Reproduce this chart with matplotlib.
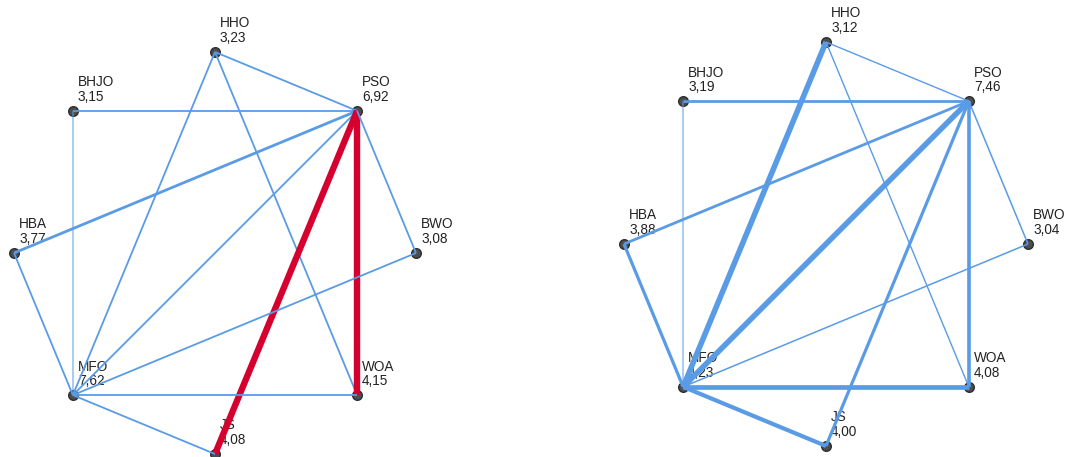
import numpy as np
import matplotlib
matplotlib.use("Agg")
import matplotlib.pyplot as plt

# ---- data ----
nodes = ["HHO", "PSO", "BWO", "WOA", "JS", "MFO", "HBA", "BHJO"]
values_left = [3.23, 6.92, 3.08, 4.15, 4.08, 7.62, 3.77, 3.15]
values_right = [3.12, 7.46, 3.04, 4.08, 4.00, 4.23, 3.88, 3.19]

# (a, b, weight)
edges_left = [
    ("HHO", "PSO", 2), ("HHO", "MFO", 2), ("HHO", "WOA", 2),
    ("BHJO", "PSO", 2), ("BHJO", "MFO", 1), ("PSO", "HBA", 3),
    ("PSO", "MFO", 2), ("PSO", "JS", 5), ("PSO", "WOA", 5),
    ("PSO", "BWO", 2), ("HBA", "MFO", 2), ("MFO", "BWO", 2),
    ("MFO", "WOA", 2), ("MFO", "JS", 2),
]
highlight_left = [("PSO", "JS"), ("PSO", "WOA")]

edges_right = [
    ("HHO", "PSO", 1.5), ("HHO", "MFO", 5), ("HHO", "WOA", 1.5),
    ("BHJO", "PSO", 3), ("BHJO", "MFO", 1), ("PSO", "HBA", 3),
    ("PSO", "MFO", 5), ("PSO", "JS", 3.2), ("PSO", "WOA", 3.6),
    ("PSO", "BWO", 1.7), ("HBA", "MFO", 3.2), ("MFO", "BWO", 1.7),
    ("MFO", "WOA", 4.6), ("MFO", "JS", 4.2),
]
highlight_right = []

BLUE = "#5A9BE6"
RED = "#D5002E"

plt.rcParams["font.family"] = ["Liberation Sans", "DejaVu Sans"]

fig = plt.figure(figsize=(10.73, 4.57), dpi=100)
ax = fig.add_axes([0, 0, 1, 1])
ax.set_xlim(0, 1073)
ax.set_ylim(457, 0)
ax.axis("off")


def lw_of(w):
    return {1: 1.1, 1.5: 1.0, 1.7: 1.1, 2: 1.3, 3: 2.0, 3.2: 2.3, 3.6: 2.6,
            4.2: 3.0, 4.6: 3.4, 5: 4.0}[w]


def draw_panel(cx, cy, r, values, edges, highlight):
    n = len(nodes)
    angles = np.pi / 2 - 2 * np.pi * np.arange(n) / n
    pos = {name: (cx + r * np.cos(a), cy - r * np.sin(a)) for name, a in zip(nodes, angles)}
    for name, v in zip(nodes, values):
        x, y = pos[name]
        ax.scatter([x], [y], s=48, color="#4D4D4D", edgecolor="#2E2E2E", linewidth=1.0, zorder=2)
        ax.text(x + 5, y - 7, f"{name}\n{v:.2f}".replace(".", ","), fontsize=9.8,
                color="#222222", ha="left", va="bottom", linespacing=1.05, zorder=3)
    for a, b, w in edges:
        (x1, y1), (x2, y2) = pos[a], pos[b]
        hi = (a, b) in highlight
        color = RED if hi else BLUE
        lw = 4.6 if hi else lw_of(w)
        alpha = 0.65 if w == 1 else 1.0
        ax.plot([x1, x2], [y1, y2], color=color, lw=lw, alpha=alpha,
                solid_capstyle="butt", zorder=4)


draw_panel(215, 253, 201, values_left, edges_left, highlight_left)
draw_panel(826, 244, 202, values_right, edges_right, highlight_right)

fig.savefig("out.png", dpi=100)
